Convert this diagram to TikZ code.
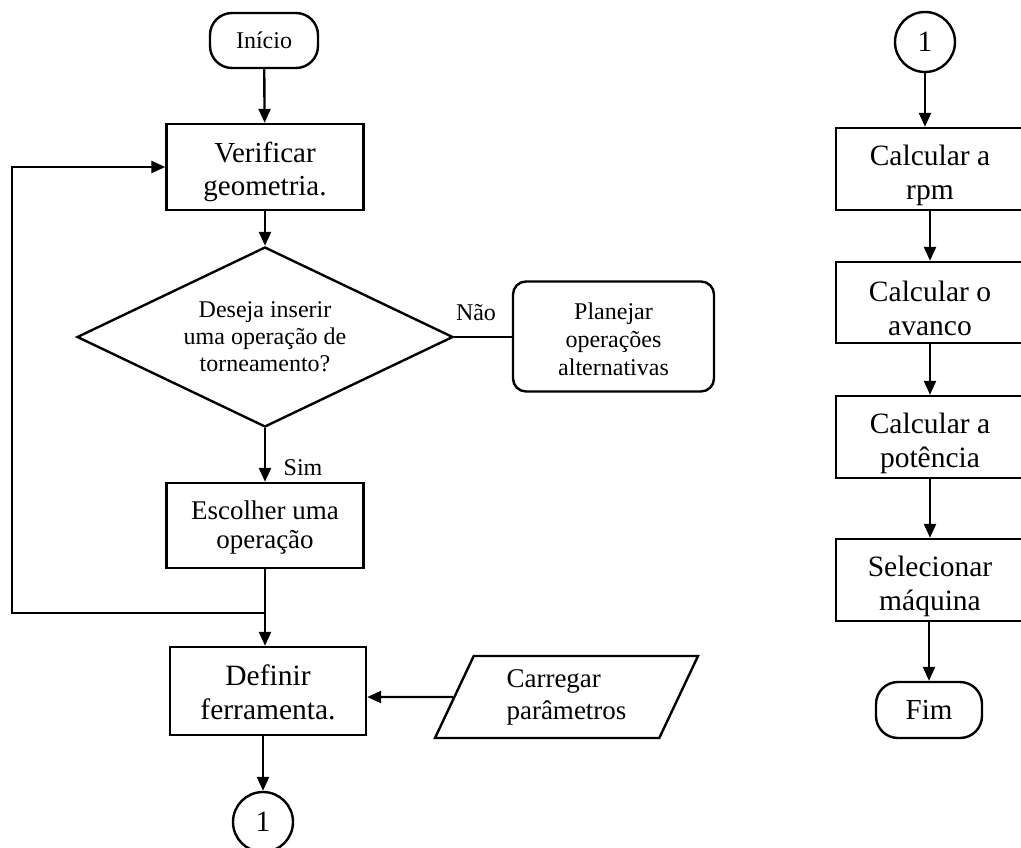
\documentclass[tikz,border=0pt]{standalone}
\usepackage{fontspec}
\setmainfont{Liberation Serif}
\usetikzlibrary{arrows.meta,shapes.geometric}

% invisible strut: a taller first line pushes the text block down in its box
\newcommand{\topgap}[1]{\rule{0pt}{#1}}

\tikzset{
  flow/.style={draw, line width=2.4pt, align=center, inner sep=2pt},
  procbox/.style={flow, rectangle, minimum width=197pt, minimum height=86pt,
                  font=\fontsize{29}{33}\selectfont},
  rightbox/.style={flow, rectangle, minimum width=188pt, minimum height=82pt,
                  font=\fontsize{29.5}{34}\selectfont},
  terminal/.style={flow, rectangle, rounded corners=22pt, minimum width=108pt,
                  minimum height=55pt},
  decision/.style={flow, diamond, shape aspect=2.09, inner sep=0pt,
                  minimum width=376pt, minimum height=180pt,
                  font=\fontsize{24}{27}\selectfont},
  altbox/.style={flow, rectangle, rounded corners=13pt, minimum width=201pt,
                  minimum height=110pt, font=\fontsize{24}{28}\selectfont},
  iobox/.style={flow, trapezium, trapezium left angle=57, trapezium right angle=123,
                  trapezium stretches body, minimum width=263pt, minimum height=82pt,
                  align=left, font=\fontsize{27}{32}\selectfont},
  pageref/.style={flow, circle, minimum size=60pt, inner sep=0pt,
                  font=\fontsize{29.5}{34}\selectfont},
  edgelabel/.style={inner sep=0pt, font=\fontsize{24}{27}\selectfont},
  link/.style={line width=2.4pt},
  arr/.style={link, -{Triangle[length=14pt,width=12pt]}},
}

\begin{document}
\begin{tikzpicture}[x=1pt, y=-1pt]
\useasboundingbox (0,0) rectangle (1021,848);
\clip (0,0) rectangle (1021,848);

% ---- left column ----
\node[terminal, font=\fontsize{24}{27}\selectfont] (start) at (264,40.5) {Início};
\node[procbox] (verif) at (265,167) {\topgap{30pt}Verificar\\geometria.};
\node[decision] (dec) at (265,337) {Deseja inserir\\uma operação de\\torneamento?};
\node[altbox] (plan) at (613.5,336.5) {\topgap{22pt}Planejar\\operações\\alternativas};
\node[edgelabel] (nao) at (476,313) {Não};
\node[edgelabel] (sim) at (303,468) {Sim};
\node[procbox, minimum height=85pt, font=\fontsize{27}{29}\selectfont] (esc) at (265,525.5) {\topgap{22pt}Escolher uma\\operação};
\coordinate (junc) at (265,613);
\coordinate (loopc) at (12,613);
\node[procbox, minimum width=196pt, minimum height=88pt, font=\fontsize{29.5}{34}\selectfont] (def) at (268,691) {\topgap{24pt}Definir\\ferramenta.};
\node[iobox] (carr) at (566.5,697) {Carregar\\parâmetros};
\node[pageref] (out1) at (263,822) {1};

\draw[arr] (start) -- (verif);
\draw[arr] (verif) -- (dec);
\draw[link] (dec.east) -- (plan.west |- dec.east);
\draw[arr] (dec.south) -- (esc.north);
\draw[link] (esc.south) -- (junc);
\draw[arr] (junc) -- (junc |- def.north);
\draw[arr] (junc) -- (loopc) |- (verif.west);
\draw[arr] (carr) -- (carr -| def.east);
\draw[arr] (out1 |- def.south) -- (out1.north);

% ---- right column ----
\node[pageref] (in1) at (925,42) {1};
\node[rightbox] (r1) at (930,169) {\topgap{33pt}Calcular a\\rpm};
\node[rightbox, minimum height=81pt] (r2) at (930,302.5) {\topgap{33pt}Calcular o\\avanco};
\node[rightbox] (r3) at (930,437) {\topgap{33pt}Calcular a\\potência};
\node[rightbox] (r4) at (930,580) {\topgap{33pt}Selecionar\\máquina};
\node[terminal, minimum width=106pt, minimum height=56pt, font=\fontsize{29}{33}\selectfont] (fim) at (929,710) {Fim};

\draw[arr] (in1.south) -- (in1.south |- r1.north);
\draw[arr] (r1) -- (r2);
\draw[arr] (r2) -- (r3);
\draw[arr] (r3) -- (r4);
\draw[arr] (r4.south) -- (r4.south -| fim) -- (fim.north);
\end{tikzpicture}
\end{document}
